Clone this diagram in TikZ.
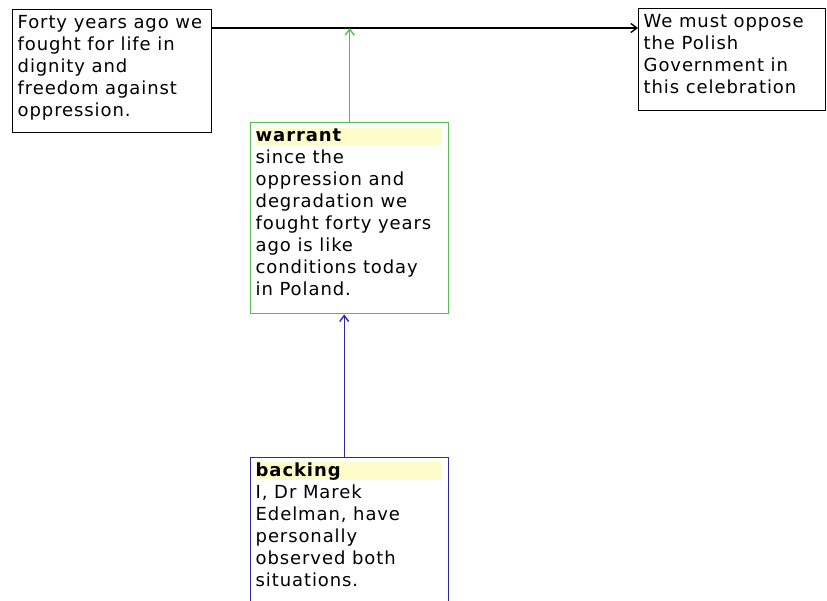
\documentclass[tikz,border=0pt]{standalone}
\usepackage{fontspec}
\setmainfont{DejaVu Sans}[LetterSpace=5.0]
\usetikzlibrary{arrows.meta}

\definecolor{warrantgreen}{RGB}{84,190,84}
\definecolor{backingblue}{RGB}{44,44,160}
\definecolor{headyellow}{RGB}{255,252,204}

\newcommand{\cellbody}[3]{\parbox[t][#2][t]{#1}{\fontsize{18}{22}\selectfont\strut #3}}
\newcommand{\cellhead}[2]{{\setlength{\fboxsep}{0pt}\colorbox{headyellow}{\parbox[b]{#1}{\rule[-4pt]{0pt}{17pt}\bfseries #2}}}}

\tikzset{
    argbox/.style={draw, line width=1.4pt, anchor=north west, inner xsep=5pt, inner ysep=3pt},
    link/.style={line width=1.4pt, -{Straight Barb[length=6pt,width=9pt]}}
}

\begin{document}
\begin{tikzpicture}[x=1pt, y=-1pt]
    \useasboundingbox[fill=white] (0, 0) rectangle (827, 600);

    \node[argbox] (data) at (12, 9)
	{\cellbody{189pt}{117pt}{Forty years ago we\\fought for life in\\dignity and\\freedom against\\oppression.}};
    \node[argbox] (claim) at (638, 8)
	{\cellbody{177pt}{96pt}{We must oppose\\the Polish\\Government in\\this celebration}};
    \node[argbox, draw=warrantgreen] (warrant) at (250, 122)
	{\cellbody{188pt}{185pt}{\cellhead{186pt}{warrant}\\since the\\oppression and\\degradation we\\fought forty years\\ago is like\\conditions today\\in Poland.}};
    \node[argbox, draw=backingblue] (backing) at (250, 457)
	{\cellbody{188pt}{185pt}{\cellhead{186pt}{backing}\\I, Dr Marek\\Edelman, have\\personally\\observed both\\situations.}};

    \coordinate (step) at ([yshift=-19pt]data.north east);
    \draw[link] (step) -- ([yshift=-20pt]claim.north west);
    \draw[link, warrantgreen] (warrant.north) -- (warrant.north |- step);
    \draw[link, backingblue] ([xshift=-5.5pt]backing.north)
	-- ([xshift=-5.5pt]backing.north |- warrant.south);
\end{tikzpicture}
\end{document}
